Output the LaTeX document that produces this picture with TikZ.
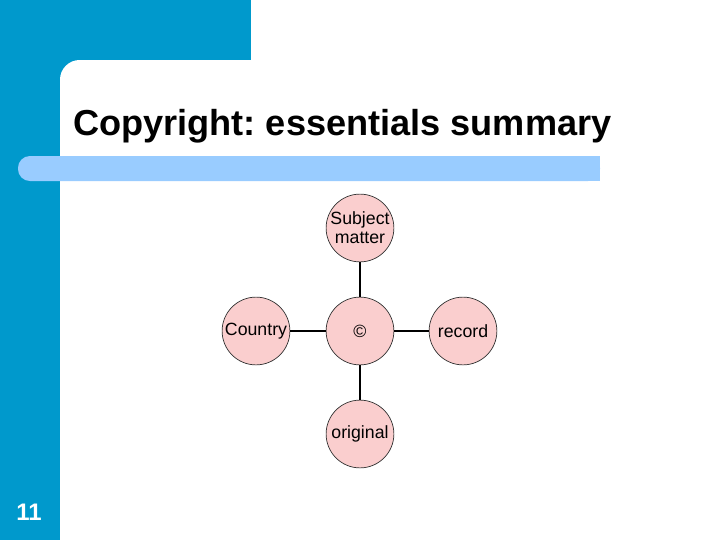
\documentclass[tikz,border=0pt]{standalone}
\usepackage{fontspec}
\setmainfont{Liberation Sans}
\frenchspacing
\definecolor{slideblue}{RGB}{0,153,204}
\definecolor{barblue}{RGB}{153,204,255}
\definecolor{bubble}{RGB}{250,206,206}
\tikzset{
  bubble/.style={circle, draw=black!80, line width=0.5pt, fill=bubble, minimum size=48.2pt, inner sep=0pt, align=center, font=\fontsize{12.6}{13.5}\selectfont},
  spoke/.style={line width=1.5pt}
}
\begin{document}
\begin{tikzpicture}[x=0.025cm, y=-0.025cm]
            \useasboundingbox (0,0) rectangle (720,540);
            \fill[white] (0,0) rectangle (720,540);
            \fill[slideblue] (0,0) rectangle (251,90);
            \fill[slideblue] (0,0) rectangle (60,540);
            \fill[white, rounded corners=14pt] (60,580) |- (760,60) -- (760,580) -- cycle;
            \fill[barblue, rounded corners=8.5pt] (600,156) -- (18,156) -- (18,181) -- (600,181) -- cycle;
            \fill[barblue] (580,156) rectangle (600,181);

            \node[anchor=base west, inner sep=0pt, font=\fontsize{25.7}{30}\selectfont\bfseries] (title) at (73,135) {Copyright: essentials summary};
            \node[text=white, font=\fontsize{17}{20}\selectfont\bfseries] (page) at (29,512) {11};

            \node[bubble] (subj) at (360,228) {Subject\\matter};
            \node[bubble] (copy) at (360,331) {©};
            \node[bubble] (country) at (256,331) {Country};
            \node[bubble] (record) at (463,331) {record};
            \node[bubble] (orig) at (360,434) {original};

            \draw[spoke] (copy) to (subj); \draw[spoke] (copy) to (orig);
            \draw[spoke] (copy) to (country); \draw[spoke] (copy) to (record);
        \end{tikzpicture}
\end{document}
